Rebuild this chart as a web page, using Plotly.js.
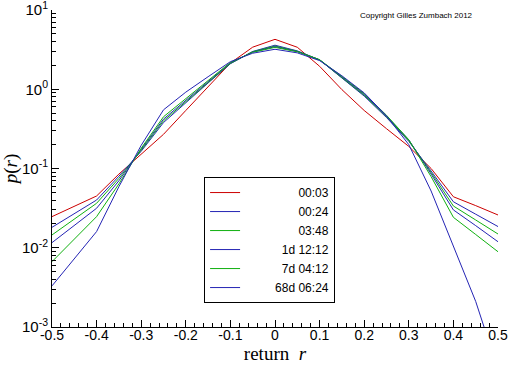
<!DOCTYPE html>
<html>
<head>
<meta charset="utf-8">
<script src="https://cdn.plot.ly/plotly-3.0.1.min.js"></script>
<style>html,body{margin:0;padding:0;background:#fff;}#chart{width:512px;height:366px;}</style>
</head>
<body>
<div id="chart"></div>
<script>
const r = [-0.5,-0.45,-0.4,-0.35,-0.3,-0.25,-0.2,-0.15,-0.1,-0.05,0,0.05,0.1,0.15,0.2,0.25,0.3,0.35,0.4,0.45,0.5];
const p_0003 = [0.0247,0.033,0.045,0.085,0.153,0.27,0.54,1.08,2.14,3.4,4.27,3.39,1.95,0.99,0.54,0.318,0.19,0.1,0.044,0.034,0.0259];
const p_0024 = [0.0181,0.027,0.040,0.080,0.165,0.38,0.68,1.20,2.10,3.0,3.60,3.05,2.35,1.38,0.82,0.44,0.22,0.093,0.038,0.0265,0.0185];
const p_0348 = [0.0145,0.023,0.0364,0.075,0.170,0.40,0.70,1.24,2.12,2.98,3.52,3.02,2.35,1.40,0.84,0.45,0.225,0.089,0.0336,0.0224,0.0149];
const p_1d1212 = [0.0116,0.019,0.0315,0.070,0.175,0.42,0.72,1.27,2.15,2.95,3.45,3.0,2.35,1.42,0.86,0.46,0.23,0.085,0.030,0.019,0.0119];
const p_7d0412 = [0.00667,0.0128,0.0247,0.064,0.180,0.45,0.76,1.32,2.18,2.93,3.38,2.97,2.36,1.45,0.88,0.47,0.23,0.079,0.0242,0.0147,0.0089];
const p_68d0624 = [0.0033,0.0073,0.016,0.059,0.196,0.55,0.92,1.44,2.23,2.85,3.2,2.88,2.3,1.48,0.9,0.46,0.2,0.052,0.0105,0.0021,0.00029];
const seriesNames = ['00:03','00:24','03:48','1d 12:12','7d 04:12','68d 06:24'];
const seriesColors = ['#cc0000','#2424b4','#10b010','#2424b4','#10b010','#2424b4'];
const xTickVals = [-0.5,-0.4,-0.3,-0.2,-0.1,0,0.1,0.2,0.3,0.4,0.5];
const xTickText = ['-0.5','-0.4','-0.3','-0.2','-0.1','0','0.1','0.2','0.3','0.4','0.5'];
const yTickVals = [0.001,0.01,0.1,1,10];
const yTickText = ['10<sup>-3</sup>','10<sup>-2</sup>','10<sup>-1</sup>','10<sup>0</sup>','10<sup>1</sup>'];

const allSeries = [p_0003,p_0024,p_0348,p_1d1212,p_7d0412,p_68d0624];
function pad(s){ // digits and 'd' are equal width in Arial; spaces/colons are half width
  let w = 0; for (const c of s) w += (c===' '||c===':') ? 1 : 2;
  const full = 25;
  return '\u00a0'.repeat(full - w) + s;
}
const traces = allSeries.map((ys,i)=>({
  x: r, y: ys, type:'scatter', mode:'lines', name: pad(seriesNames[i]),
  line:{color:seriesColors[i], width:1}
}));

const yMinor = [];
for (let e=-3; e<1; e++) for (let k=2;k<=9;k++) yMinor.push(k*Math.pow(10,e));
const xMinor = [];
for (let i=-25;i<=25;i++){ if (i%5!==0) xMinor.push(i/50); }

const layout = {
  width:512, height:366,
  margin:{l:52, r:14, t:10, b:39},
  paper_bgcolor:'#fff', plot_bgcolor:'#fff',
  font:{family:'Liberation Sans, Arial, sans-serif', color:'#000', size:13},
  showlegend:true,
  legend:{x:0.341, y:0.473, xanchor:'left', yanchor:'top', bgcolor:'#fff',
    bordercolor:'#000', borderwidth:1, font:{size:12, family:'Liberation Sans, Arial, sans-serif'},
    tracegroupgap:0},
  xaxis:{range:[-0.5,0.5], tickmode:'array', tickvals:xTickVals, ticktext:xTickText,
    ticks:'inside', ticklen:7, tickcolor:'#000', showgrid:false, zeroline:false,
    showline:true, linecolor:'#000', linewidth:1, mirror:false,
    tickfont:{size:14}, ticklabelstandoff:-5, ticklabeloverflow:'allow',
    minor:{tickvals:xMinor, ticks:'inside', ticklen:4, tickcolor:'#000', showgrid:false},
    title:{text:'return  <i>r</i>', font:{family:'Liberation Serif, Times New Roman, serif', size:19}, standoff:1}},
  yaxis:{type:'log', range:[-3.0005,1.0005], tickmode:'array', tickvals:yTickVals, ticktext:yTickText,
    ticks:'inside', ticklen:7, tickcolor:'#000', showgrid:false, zeroline:false,
    showline:true, linecolor:'#000', linewidth:1, mirror:false,
    tickfont:{size:15}, ticklabeloverflow:'allow',
    minor:{tickvals:yMinor, ticks:'inside', ticklen:4, tickcolor:'#000', showgrid:false},
    title:{text:'<i>p</i>(<i>r</i>)', font:{family:'Liberation Serif, Times New Roman, serif', size:19}, standoff:4}},
  annotations:[{text:'Copyright Gilles Zumbach 2012', xref:'paper', yref:'paper',
    x:0.686, y:0.984, xanchor:'left', yanchor:'middle', showarrow:false,
    font:{size:8, family:'Liberation Sans, Arial, sans-serif', color:'#000'}}]
};
Plotly.newPlot('chart', traces, layout, {staticPlot:true, displayModeBar:false});
</script>
</body>
</html>
